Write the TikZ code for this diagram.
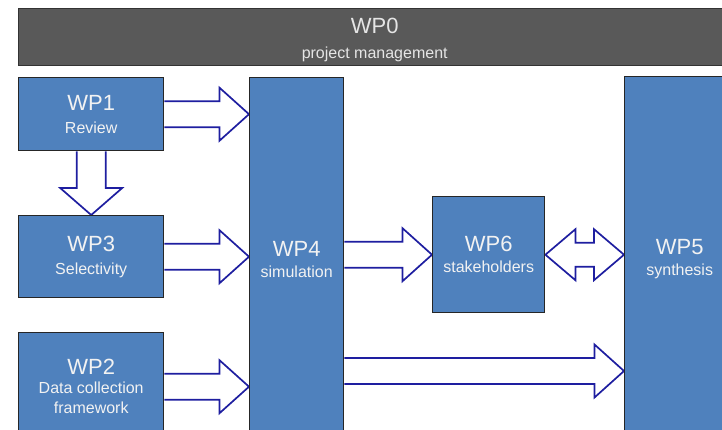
\documentclass[tikz,border=0pt]{standalone}
\usepackage{fontspec}
\setmainfont{Liberation Sans}
\usetikzlibrary{calc,backgrounds}
\definecolor{wpblue}{HTML}{4F81BD}
\definecolor{wpgray}{HTML}{595959}
\definecolor{arrblue}{RGB}{30,30,160}
\newcommand\wptitle{\fontsize{22}{24}\selectfont}
\newcommand\wpsub{\fontsize{16}{23}\selectfont}
% horizontal block arrow: #1 start, #2 end (same height)
\newcommand\myharrow[2]{%
  \filldraw[barrow] let \p1=(#1), \p2=(#2) in
    (\x1,\y1+13pt) -- (\x2-29.5pt,\y1+13pt) -- (\x2-29.5pt,\y1+26.5pt) -- (\x2,\y1)
    -- (\x2-29.5pt,\y1-26.5pt) -- (\x2-29.5pt,\y1-13pt) -- (\x1,\y1-13pt);}
\begin{document}
\begin{tikzpicture}[x=1pt,y=-1pt,
  wp/.style={draw=black!85, line width=1.4pt, fill=wpblue, text=white!95!black,
    align=center, inner sep=0pt, font=\wpsub, anchor=north west},
  barrow/.style={draw=arrblue, fill=white, line width=1.7pt, line join=miter}]
\useasboundingbox (0,0) rectangle (722,429);
% boxes
\node[wp, fill=wpgray, draw=black!80, minimum width=712, minimum height=57] (wp0) at (18,8) {};
\node[align=center, inner sep=0pt, text=white!90!black, font=\wpsub] (wp0t) at ($(wp0.center)+(0,3)$)
  {{\wptitle WP0}\\[2pt]project management};
\node[wp, minimum width=145, minimum height=73] (wp1) at (18,77) {{\wptitle WP1}\\Review};
\node[wp, minimum width=145, minimum height=82] (wp3) at (18,215) {{\wptitle WP3}\\Selectivity};
\node[wp, minimum width=145, minimum height=108] (wp2) at (18,332)
  {{\wptitle WP2}\\[-4pt]Data collection\\[-3pt]framework};
\node[wp, minimum width=94, minimum height=363] (wp4) at (249,77) {{\wptitle WP4}\\[-2pt]simulation};
\node[wp, minimum width=112, minimum height=116] (wp6) at (432,196) {{\wptitle WP6}\\[-2pt]stakeholders};
\node[wp, minimum width=110, minimum height=364] (wp5) at (624,76) {{\wptitle WP5}\\[-2pt]synthesis};
\coordinate (yb) at (0,371);
% arrows
\begin{scope}[on background layer]
  \fill[white] (0,0) rectangle (722,429);
  \myharrow{wp1.east}{wp4.west |- wp1.east}
  \myharrow{wp3.east}{wp4.west |- wp3.east}
  \myharrow{wp2.east}{wp4.west |- wp2.east}
  \myharrow{wp4.east |- wp6.west}{wp6.west}
  \myharrow{wp4.east |- yb}{wp5.west |- yb}
  % down arrow WP1 -> WP3
  \filldraw[barrow] let \p1=(wp1.south), \p2=(wp1.south |- wp3.north) in
    (\x1-14.5pt,\y1) -- (\x1-14.5pt,\y2+27pt) -- (\x1-31pt,\y2+27pt) -- (\x1,\y2)
    -- (\x1+31pt,\y2+27pt) -- (\x1+14.5pt,\y2+27pt) -- (\x1+14.5pt,\y1);
  % double arrow WP6 <-> WP5
  \filldraw[barrow] let \p1=(wp6.east), \p2=(wp5.west |- wp6.east) in
    (\x1,\y1) -- (\x1+30pt,\y1+25.5pt) -- (\x1+30pt,\y1+12pt) -- (\x2-30pt,\y1+12pt)
    -- (\x2-30pt,\y1+25.5pt) -- (\x2,\y1) -- (\x2-30pt,\y1-25.5pt) -- (\x2-30pt,\y1-12pt)
    -- (\x1+30pt,\y1-12pt) -- (\x1+30pt,\y1-25.5pt) -- cycle;
\end{scope}
\end{tikzpicture}
\end{document}
